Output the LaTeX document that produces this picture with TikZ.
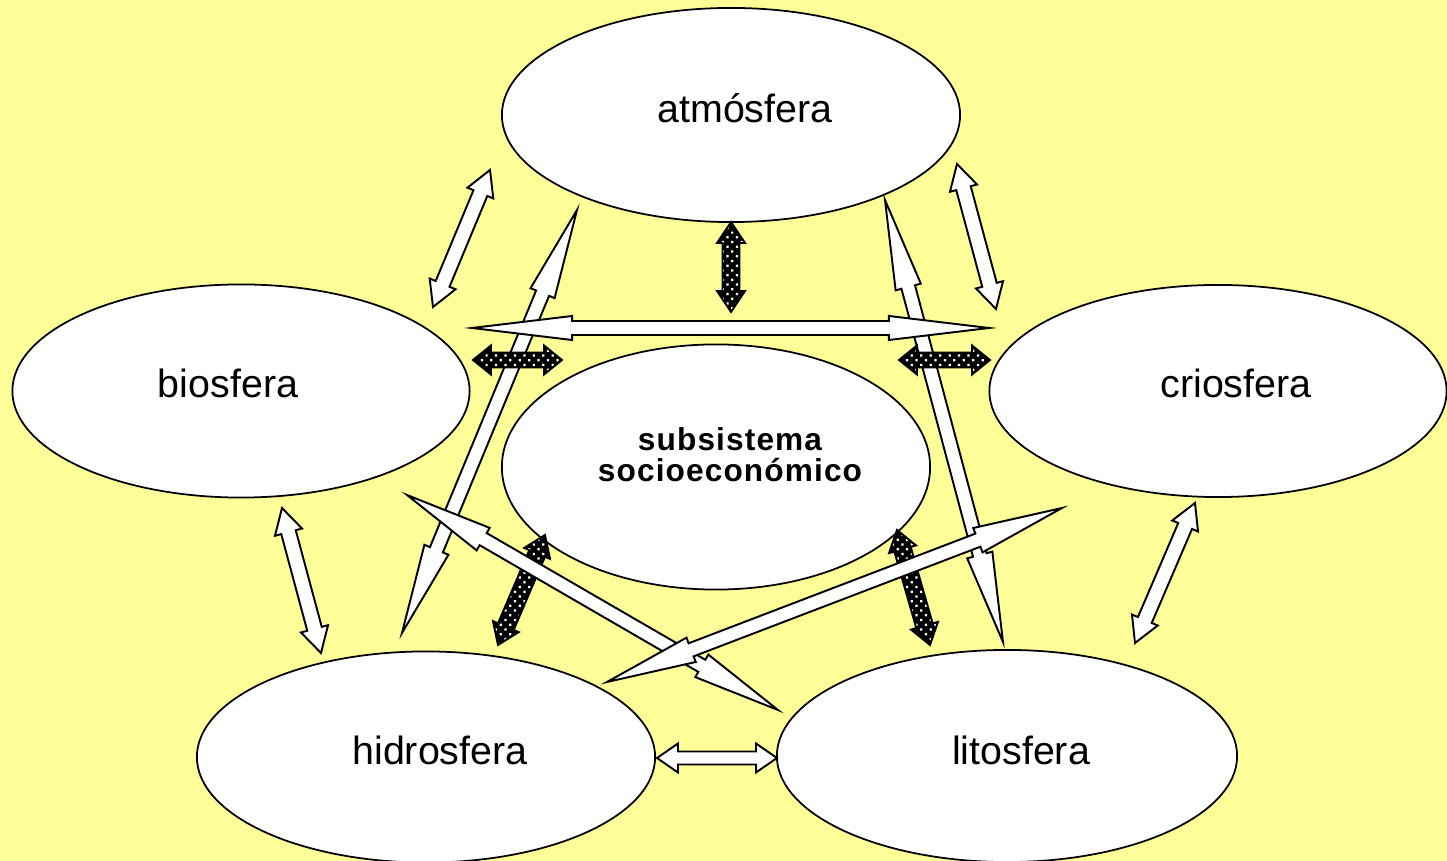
\documentclass[tikz,border=0pt]{standalone}
\usepackage{fontspec}
\setmainfont{Liberation Sans}
\newfontfamily\spacedbold{Liberation Sans Bold}[LetterSpace=3.5]
\usetikzlibrary{shapes.geometric,calc,patterns.meta}
\definecolor{paper}{HTML}{FFFF99}

\tikzset{
  sphere/.style={ellipse, draw=black, line width=0.5pt, fill=white, inner sep=0pt},
  sphtext/.style={anchor=base, inner sep=0pt, font=\fontsize{11.2}{13}\selectfont},
  lightarrow/.style={draw=black, fill=white, line width=0.55pt, line join=miter},
  darkarrow/.style={draw=black, line width=0.55pt, line join=miter,
    preaction={fill=black},
    pattern={Dots[distance=1.9pt, radius=0.45pt, angle=45]}, pattern color=white},
}

% double block arrow from #2 to #3: style #1, shaft half width #4,
% head half width #5, head length #6
\newcommand\dblarrow[6]{%
  \draw[#1] (#2)
    -- ($(#2)!#6!(#3)!#5!90:(#3)$)
    -- ($(#2)!#6!(#3)!#4!90:(#3)$)
    -- ($(#3)!#6!(#2)!#4!90:(#3)$)
    -- ($(#3)!#6!(#2)!#5!90:(#3)$)
    -- (#3)
    -- ($(#3)!#6!(#2)!#5!-90:(#3)$)
    -- ($(#3)!#6!(#2)!#4!-90:(#3)$)
    -- ($(#2)!#6!(#3)!#4!-90:(#3)$)
    -- ($(#2)!#6!(#3)!#5!-90:(#3)$)
    -- cycle;}

\begin{document}
\begin{tikzpicture}[x=0.01cm, y=-0.01cm]
  \fill[paper] (0,0) rectangle (1447,861);
  \useasboundingbox (0,0) rectangle (1447,861);
  \clip (0,0) rectangle (1447,861);

  % spheres
  \node[sphere, minimum width=4.58cm, minimum height=2.14cm] (atm) at (731,115) {};
  \node[sphere, minimum width=4.57cm, minimum height=2.13cm] (bio) at (241,391) {};
  \node[sphere, minimum width=4.57cm, minimum height=2.12cm] (crio) at (1218,391) {};
  \node[sphere, minimum width=4.28cm, minimum height=2.45cm] (sub) at (716,467) {};
  \node[sphere, minimum width=4.58cm, minimum height=2.11cm] (hidro) at (426,757) {};
  \node[sphere, minimum width=4.60cm, minimum height=2.12cm] (lito) at (1007,756) {};

  \node[sphtext] (atmT) at (745,123) {atmósfera};
  \node[sphtext] (bioT) at (228,398) {biosfera};
  \node[sphtext] (crioT) at (1236,398) {criosfera};
  \node[sphtext] (hidroT) at (440,765) {hidrosfera};
  \node[sphtext] (litoT) at (1021,765) {litosfera};
  \node[align=center, inner sep=0pt,
        font=\spacedbold\fontsize{9}{8.9}\selectfont] (subT) at (730,455)
        {subsistema\\socioeconómico};

  % arrow end points
  \coordinate (L7a) at (577,210);  \coordinate (L7b) at (402,633);
  \coordinate (L8a) at (885,200);  \coordinate (L8b) at (1003,642);
  \coordinate (L4a) at (472,328);  \coordinate (L4b) at (989,328);
  \coordinate (L9a) at (407,495);  \coordinate (L9b) at (778,710);
  \coordinate (L10a) at (1062,508); \coordinate (L10b) at (607,682);
  \coordinate (D3a) at (731,222);  \coordinate (D3b) at (731,312);
  \coordinate (D5a) at (473,360);  \coordinate (D5b) at (562,360);
  \coordinate (D6a) at (899,360);  \coordinate (D6b) at (990,360);
  \coordinate (D13a) at (545,535); \coordinate (D13b) at (498,645);
  \coordinate (D14a) at (897,530); \coordinate (D14b) at (930,645);
  \coordinate (S1a) at (490,170);  \coordinate (S1b) at (433,307);
  \coordinate (S2a) at (957,164);  \coordinate (S2b) at (996,309);
  \coordinate (S11a) at (282,508); \coordinate (S11b) at (321,653);
  \coordinate (S12a) at (1195,503); \coordinate (S12b) at (1135,643);
  \coordinate (S15a) at (657,758); \coordinate (S15b) at (777,758);

  % long arrows below the dark ones
  \dblarrow{lightarrow}{L7a}{L7b}{0.07cm}{0.13cm}{0.9cm}
  \dblarrow{lightarrow}{L8a}{L8b}{0.07cm}{0.13cm}{0.9cm}

  % dark arrows to the socio-economic subsystem
  \dblarrow{darkarrow}{D3a}{D3b}{0.085cm}{0.14cm}{0.21cm}
  \dblarrow{darkarrow}{D5a}{D5b}{0.075cm}{0.145cm}{0.18cm}
  \dblarrow{darkarrow}{D6a}{D6b}{0.075cm}{0.145cm}{0.18cm}
  \dblarrow{darkarrow}{D13a}{D13b}{0.085cm}{0.14cm}{0.2cm}
  \dblarrow{darkarrow}{D14a}{D14b}{0.085cm}{0.14cm}{0.2cm}

  % long arrows on top
  \dblarrow{lightarrow}{L4a}{L4b}{0.07cm}{0.12cm}{1.0cm}
  \dblarrow{lightarrow}{L9a}{L9b}{0.07cm}{0.13cm}{0.88cm}
  \dblarrow{lightarrow}{L10a}{L10b}{0.07cm}{0.13cm}{0.9cm}

  % short arrows between neighbouring spheres
  \dblarrow{lightarrow}{S1a}{S1b}{0.075cm}{0.14cm}{0.25cm}
  \dblarrow{lightarrow}{S2a}{S2b}{0.075cm}{0.14cm}{0.25cm}
  \dblarrow{lightarrow}{S11a}{S11b}{0.075cm}{0.14cm}{0.25cm}
  \dblarrow{lightarrow}{S12a}{S12b}{0.075cm}{0.14cm}{0.25cm}
  \dblarrow{lightarrow}{S15a}{S15b}{0.065cm}{0.145cm}{0.21cm}
\end{tikzpicture}
\end{document}
